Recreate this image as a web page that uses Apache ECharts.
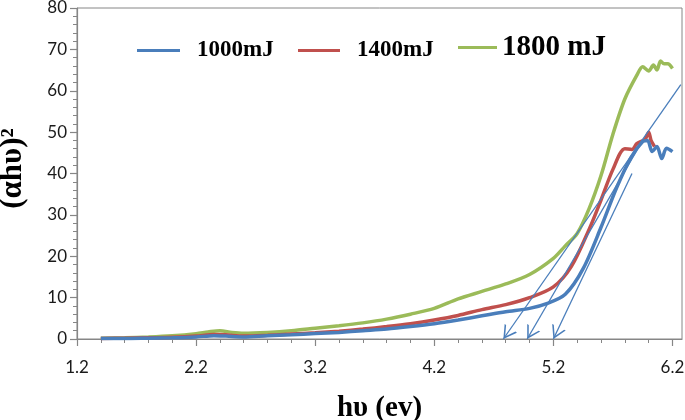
<!DOCTYPE html>
<html>
<head>
<meta charset="utf-8">
<script src="https://cdn.jsdelivr.net/npm/echarts@6/dist/echarts.min.js"></script>
<style>html,body{margin:0;padding:0;background:#fff}#c{width:685px;height:420px}</style>
</head>
<body>
<div id="c"></div>
<script>
// ---- data ----
const xTickLabels = [1.2, 2.2, 3.2, 4.2, 5.2, 6.2];
const xMinorTicks = [1.2,1.4,1.6,1.8,2.0,2.2,2.4,2.6,2.8,3.0,3.2,3.4,3.6,3.8,4.0,4.2,4.4,4.6,4.8,5.0,5.2,5.4,5.6,5.8,6.0,6.2];
const seriesNames = ['1000mJ', '1400mJ', '1800 mJ'];

const x1000 = [1.4,1.6,1.8,2.0,2.2,2.35,2.45,2.6,2.8,3.0,3.2,3.4,3.6,3.8,4.0,4.2,4.4,4.6,4.8,5.0,5.15,5.3,5.45,5.6,5.73,5.85,5.95,5.99,6.03,6.07,6.11,6.15,6.2];
const y1000 = [0.1,0.1,0.2,0.3,0.5,0.8,0.7,0.5,0.8,1.0,1.3,1.6,2.0,2.4,3.0,3.7,4.6,5.6,6.6,7.4,8.6,10.8,17.0,27.0,36.5,43.8,47.7,48.0,45.3,46.5,43.6,46.1,45.3];

const x1400 = [1.4,1.6,1.8,2.0,2.2,2.35,2.45,2.6,2.8,3.0,3.2,3.4,3.6,3.8,4.0,4.2,4.4,4.6,4.8,5.0,5.2,5.35,5.5,5.6,5.7,5.8,5.86,5.9,5.97,6.0,6.02,6.05];
const y1400 = [0.1,0.2,0.3,0.4,0.7,1.1,1.0,0.7,0.9,1.2,1.5,1.9,2.4,3.0,3.7,4.6,5.7,7.1,8.3,10.0,12.6,17.5,26.5,33.6,41.0,46.0,45.8,47.2,48.3,50.0,48.0,46.5];

const x1800 = [1.4,1.6,1.8,2.0,2.2,2.3,2.4,2.5,2.6,2.8,3.0,3.2,3.4,3.6,3.8,4.0,4.2,4.4,4.6,4.8,5.0,5.2,5.3,5.4,5.5,5.6,5.7,5.8,5.9,5.95,6.0,6.04,6.07,6.1,6.13,6.16,6.2];
const y1800 = [0.2,0.3,0.5,0.8,1.3,1.7,2.0,1.6,1.4,1.6,2.0,2.6,3.2,3.9,4.8,6.0,7.4,9.7,11.5,13.3,15.6,19.5,22.5,25.5,31.5,39.5,49.5,58.0,63.7,65.8,64.8,66.2,65.0,67.2,66.5,66.5,65.4];

// tangent lines: [x at y=0, y=0] -> [x end, y end]
const tangentStarts = [[4.78, 0], [4.98, 0], [5.20, 0]];
const tangentEnds = [[6.27, 61.5], [5.95, 48.0], [5.86, 40.0]];

const colors = ['#4A7EBB', '#C0504D', '#9BBB59'];

function pairs(xs, ys) { return xs.map((x, i) => [x, ys[i]]); }

// open V arrowhead; tip at the centre of the bounding box
const arrowPath = 'path://M0,-16 L0.01,-16 L0,-16 Z M0,0 L10,16 L7.6,16 L0,3.8 L-7.6,16 L-10,16 Z';

const chart = echarts.init(document.getElementById('c'), null, {renderer: 'canvas'});
const axisGray = '#868686';
const labelFont = 'Lato, "Open Sans", sans-serif';
const serif = '"Liberation Serif", "DejaVu Serif", serif';

function mkLegend(name, left, size, w, gap) {
  return {
    data: [name], left: left, top: size > 24 ? 33 : 39, padding: 0,
    itemWidth: w, itemHeight: 14,
    icon: 'path://M0,6 L42,6 L42,9 L0,9 Z',
    textStyle: {fontFamily: serif, fontWeight: 'bold', fontSize: size, color: '#000', padding: [0, 0, 0, gap]},
    selectedMode: false
  };
}

chart.setOption({
  animation: false,
  color: colors,
  legend: [mkLegend(seriesNames[0], 137, 23, 43, 12), mkLegend(seriesNames[1], 298, 23, 42, 12), mkLegend(seriesNames[2], 458, 29, 39, 0)],
  grid: {left: 77, top: 8, right: 3, bottom: 81, show: true, borderColor: axisGray, borderWidth: 1, containLabel: false, outerBoundsMode: 'none'},
  xAxis: [{
    type: 'value', min: 1.2, max: 6.28, interval: 1,
    axisLine: {lineStyle: {color: axisGray, width: 1.2}},
    axisTick: {show: true, length: 7, customValues: xTickLabels, lineStyle: {color: axisGray, width: 1.2}},
    axisLabel: {customValues: xTickLabels, formatter: v => v.toFixed(1), fontFamily: labelFont, fontSize: 17, color: '#1a1a1a', margin: 20},
    splitLine: {show: false},
    name: 'h\u03C5 (ev)', nameLocation: 'middle', nameGap: 55,
    nameTextStyle: {fontFamily: serif, fontWeight: 'bold', fontSize: 29, color: '#000'}
  }, {
    type: 'value', min: 1.2, max: 6.28, position: 'bottom',
    axisLine: {show: false},
    axisTick: {show: true, length: 4, customValues: xMinorTicks, lineStyle: {color: axisGray, width: 1}},
    axisLabel: {show: false}, splitLine: {show: false}
  }],
  yAxis: {
    type: 'value', min: 0, max: 80, interval: 10,
    axisLine: {show: true, lineStyle: {color: axisGray, width: 1.2}},
    axisTick: {show: true, length: 7, lineStyle: {color: axisGray, width: 1.2}},
    minorTick: {show: true, splitNumber: 5, length: 4, lineStyle: {color: axisGray, width: 1}},
    axisLabel: {fontFamily: labelFont, fontSize: 17, color: '#1a1a1a', margin: 10},
    splitLine: {show: false},
    name: '(\u03B1h\u03C5)\u00B2', nameLocation: 'middle', nameGap: 49, nameRotate: 90,
    nameTextStyle: {fontFamily: serif, fontWeight: 'bold', fontSize: 31, color: '#000', padding: [0, 0, 0, 10]}
  },
  series: [
    {
      name: seriesNames[0], type: 'line', data: pairs(x1000, y1000), smooth: 0.3, symbol: 'none',
      lineStyle: {width: 3.5, color: colors[0]}, z: 3,
      markLine: {
        silent: true, symbol: [arrowPath, 'none'], symbolSize: [15, 26],
        lineStyle: {color: '#4A7EBB', width: 1.3, type: 'solid'}, label: {show: false},
        itemStyle: {color: '#4A7EBB'},
        data: tangentStarts.map((s, i) => [{coord: s}, {coord: tangentEnds[i]}])
      }
    },
    {name: seriesNames[1], type: 'line', data: pairs(x1400, y1400), smooth: 0.3, symbol: 'none', lineStyle: {width: 3.5, color: colors[1]}, z: 2},
    {name: seriesNames[2], type: 'line', data: pairs(x1800, y1800), smooth: 0.3, symbol: 'none', lineStyle: {width: 3.5, color: colors[2]}, z: 1}
  ]
});
</script>
</body>
</html>
